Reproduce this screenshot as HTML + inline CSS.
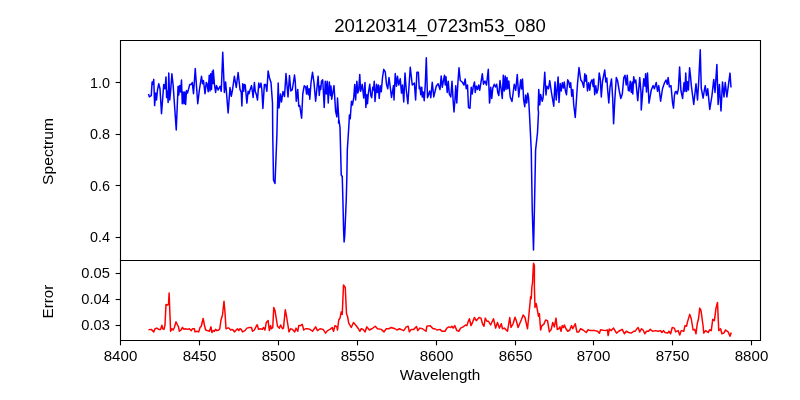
<!DOCTYPE html>
<html><head><meta charset="utf-8"><style>
html,body{margin:0;padding:0;background:#fff;width:800px;height:400px;overflow:hidden}
svg{display:block}
text{font-family:"Liberation Sans",sans-serif;fill:#000}
</style></head><body>
<svg width="800" height="400" viewBox="0 0 800 400">
<rect width="800" height="400" fill="#fff"/>
<polyline fill="none" stroke="#0000ff" stroke-width="1.5" stroke-linejoin="round" stroke-linecap="butt" points="148.50,94.00 149.38,96.88 151.25,95.62 152.12,81.88 152.88,84.38 153.75,79.38 154.62,105.62 155.62,93.12 156.50,100.00 157.50,90.00 158.75,83.75 160.00,88.75 161.50,113.75 163.75,84.38 165.00,88.75 166.00,76.88 166.62,97.50 167.50,91.25 168.12,102.50 168.75,73.12 169.75,100.00 170.62,91.25 171.88,73.75 173.12,85.00 176.25,130.00 178.10,86.25 178.75,95.00 179.75,85.60 180.60,92.00 181.50,80.00 182.25,103.75 183.10,91.90 184.00,103.75 184.75,91.90 185.60,104.40 186.50,90.60 187.50,93.00 188.50,89.40 189.75,84.38 191.25,84.38 192.25,82.50 193.50,93.75 195.25,68.50 197.75,103.75 199.38,90.00 201.50,76.25 202.50,83.75 203.50,80.62 205.00,93.75 206.25,82.50 207.00,83.50 208.20,91.70 209.25,75.25 210.00,91.00 210.75,73.75 211.50,89.50 212.25,71.50 213.00,83.50 213.30,70.00 214.50,85.00 215.62,92.50 216.50,85.62 218.12,90.00 220.00,86.25 221.25,91.25 222.75,52.25 224.38,92.50 225.62,81.88 228.12,113.00 230.00,87.50 231.25,96.25 232.50,90.00 234.38,76.25 236.25,87.50 238.12,72.50 240.00,89.38 241.25,92.50 241.88,106.00 242.75,83.75 243.75,91.25 244.38,84.38 245.25,85.00 246.88,103.12 248.12,91.25 249.00,93.75 250.00,90.00 251.50,85.62 252.50,92.50 253.12,97.50 254.38,82.50 255.25,91.25 256.50,95.00 257.50,100.00 258.75,83.12 259.75,87.50 261.00,83.12 261.88,90.00 262.88,108.50 264.38,84.38 265.62,84.38 266.88,91.25 268.12,71.00 269.38,77.50 271.00,82.50 272.50,103.00 272.75,135.00 273.50,180.00 275.00,183.50 276.90,135.00 277.50,108.00 278.20,83.00 279.00,108.00 280.50,94.00 281.50,102.00 283.00,91.50 284.50,96.50 286.00,73.50 288.00,97.00 289.50,75.50 290.80,91.00 292.20,90.00 293.50,82.00 294.50,75.00 295.25,81.25 296.25,101.25 297.75,89.38 298.75,106.25 299.75,105.62 301.62,118.12 302.50,100.00 302.75,94.00 304.25,85.75 305.75,87.25 306.50,94.00 307.25,85.75 308.30,94.75 309.20,88.75 309.80,99.25 311.00,82.75 312.50,72.25 314.00,82.50 315.62,101.25 318.12,76.25 319.25,95.50 320.20,86.00 320.75,89.50 321.50,81.25 322.70,79.75 323.40,92.00 324.20,107.50 325.25,81.25 326.30,94.00 327.20,81.25 328.25,103.00 329.30,82.00 330.50,95.50 331.00,86.00 331.70,99.25 334.00,85.62 335.62,111.25 336.88,116.88 337.50,98.12 338.75,118.12 338.50,123.00 339.00,120.00 340.00,127.50 340.60,150.00 341.25,175.00 342.25,176.50 342.90,200.00 343.60,230.00 344.10,242.00 344.70,236.00 346.25,200.00 346.90,175.00 347.30,150.00 349.00,123.75 349.40,115.00 350.25,118.75 351.00,107.50 351.50,101.25 352.50,105.00 353.75,97.50 354.75,84.38 355.62,100.00 356.88,81.25 357.75,93.12 358.75,90.00 359.75,74.38 360.62,91.25 362.25,84.38 363.75,98.12 365.00,82.50 365.88,107.50 366.75,94.75 367.50,103.75 368.25,94.00 369.00,89.00 369.75,84.25 370.80,95.50 371.70,97.75 372.75,87.25 373.50,90.00 374.25,81.25 375.00,101.50 376.50,84.25 377.25,92.50 378.30,85.00 379.20,98.50 380.25,85.75 381.30,91.75 382.50,77.50 383.75,69.38 385.25,71.88 386.50,84.38 387.75,88.75 389.00,77.50 390.00,85.00 391.50,97.50 393.50,85.62 394.00,100.00 395.25,73.50 396.50,86.25 397.50,76.25 398.75,85.00 400.25,78.75 401.50,93.12 402.50,85.00 403.75,101.88 405.00,73.12 406.25,90.00 407.88,103.75 410.25,67.25 412.25,85.00 414.38,83.12 415.62,100.00 416.88,72.25 418.38,72.25 419.25,88.75 420.00,87.00 420.75,94.75 421.80,87.25 422.25,97.00 423.20,92.00 424.20,100.75 425.25,85.00 426.30,57.70 427.50,97.75 428.60,94.50 429.70,91.00 430.80,97.75 432.25,82.25 433.75,96.88 436.25,86.25 438.12,83.75 440.00,89.50 441.20,76.00 442.25,87.25 443.20,82.00 444.50,75.25 445.25,85.00 446.00,76.75 447.20,92.50 448.25,81.25 449.30,94.00 450.80,97.00 452.00,81.25 453.20,101.50 454.00,112.00 455.00,99.25 455.75,85.75 456.80,103.00 458.00,81.25 459.00,67.75 460.25,80.50 462.20,82.00 464.00,85.00 465.20,79.00 466.25,88.75 467.50,85.00 468.50,107.50 470.00,108.25 471.20,87.25 472.25,94.00 473.30,86.50 474.50,82.00 475.25,92.50 476.30,86.00 477.50,89.50 478.70,85.00 479.75,90.25 480.80,83.50 482.30,73.75 483.50,84.25 485.00,81.00 486.50,85.00 488.30,69.25 489.50,103.00 489.80,101.50 490.70,87.25 491.75,98.50 492.80,88.00 494.30,84.25 495.50,87.00 496.70,84.25 497.75,92.50 498.80,95.50 500.00,80.50 501.20,89.50 502.25,98.50 503.30,75.25 504.20,91.00 505.25,76.00 506.00,89.50 507.00,77.50 507.80,88.75 508.80,81.00 510.20,97.00 512.00,101.50 514.25,84.25 515.75,90.25 517.25,74.50 518.75,97.00 520.70,79.75 521.60,89.00 522.50,79.00 523.70,100.00 524.75,106.75 525.70,95.00 526.70,103.00 527.75,93.25 528.60,98.00 529.40,112.50 531.25,150.00 532.25,210.00 533.50,250.00 534.40,210.00 535.60,150.00 537.50,132.50 538.50,112.50 538.12,108.75 538.75,89.38 539.75,105.00 540.62,94.38 542.25,101.25 543.12,97.50 544.75,72.25 546.00,95.00 546.88,86.25 548.50,88.75 549.75,80.62 551.25,91.25 553.75,106.25 555.00,81.88 556.25,100.00 558.12,76.88 559.00,102.50 560.20,83.50 561.25,91.00 562.30,82.75 563.50,88.00 564.25,82.00 565.30,90.25 566.50,94.75 567.70,79.75 568.70,81.50 569.80,87.25 570.70,82.75 571.75,96.25 572.80,89.50 573.70,104.50 575.25,117.50 577.50,83.75 579.00,67.50 580.75,79.75 582.25,82.00 583.75,87.25 584.80,73.75 585.70,81.25 586.30,75.25 587.50,91.00 588.70,82.75 589.75,90.25 590.80,82.00 592.00,79.75 593.20,86.50 593.80,79.00 594.70,94.75 595.75,85.75 596.80,93.25 598.00,89.00 599.20,73.00 600.25,79.00 601.30,97.00 602.50,81.25 603.60,76.00 604.75,70.00 605.80,82.00 606.80,78.00 607.75,91.00 608.80,103.00 610.00,87.25 611.50,79.00 612.70,98.50 613.60,123.75 614.80,100.00 616.30,77.50 617.50,80.50 619.30,91.00 620.80,98.50 622.30,94.00 623.80,77.50 625.00,75.25 626.20,85.00 627.25,75.25 628.30,90.25 629.20,91.00 630.25,81.25 631.30,92.50 632.20,82.00 632.80,94.00 633.70,76.75 634.75,82.75 635.80,80.00 637.75,100.62 639.75,77.50 641.00,92.50 641.25,110.00 643.75,78.75 645.00,86.25 645.62,73.75 646.50,91.88 647.50,73.12 649.00,103.12 651.25,90.00 653.12,85.62 654.38,88.75 656.25,82.50 657.50,91.25 658.75,85.62 660.62,101.25 662.50,88.75 664.38,83.12 666.00,80.00 667.25,84.38 668.12,77.50 669.38,86.88 671.00,85.62 672.50,102.50 673.50,108.12 674.40,95.80 675.20,92.00 676.10,91.40 677.20,94.00 678.40,88.80 679.60,66.90 680.90,90.50 682.60,98.40 684.00,82.65 684.90,91.40 685.75,73.00 686.60,91.40 687.50,81.80 688.40,90.00 689.60,67.75 690.50,76.00 691.25,85.00 693.75,104.38 696.00,83.75 697.50,100.00 698.75,80.62 700.25,49.75 701.25,88.12 703.12,98.12 704.38,90.00 705.25,85.62 706.50,95.62 707.75,88.75 709.75,109.38 711.88,96.25 713.75,79.38 715.00,92.50 716.88,64.38 718.12,104.38 719.38,84.38 721.00,111.00 722.50,81.88 724.00,96.88 725.25,82.50 726.88,96.88 730.00,73.12 731.00,87.50"/>
<polyline fill="none" stroke="#ff0000" stroke-width="1.5" stroke-linejoin="round" stroke-linecap="butt" points="148.50,329.75 151.25,329.38 152.50,330.62 153.75,331.88 155.00,328.75 156.88,328.12 158.75,329.38 160.62,329.38 161.88,325.25 162.75,328.75 164.00,329.38 165.00,325.00 166.00,304.38 167.50,305.00 168.50,304.38 169.12,293.12 169.75,310.00 170.62,331.25 171.88,328.75 173.12,330.00 174.38,327.50 176.00,321.88 177.50,325.00 178.50,326.88 179.38,331.25 181.00,330.00 182.50,327.50 184.00,329.38 185.62,328.75 187.50,329.38 189.38,328.75 191.25,330.62 192.50,328.75 194.38,328.75 195.00,331.88 196.88,331.25 198.75,331.88 200.00,327.50 201.25,326.25 203.12,318.50 204.38,325.00 205.62,330.00 207.50,330.62 209.38,331.25 211.00,326.88 211.88,332.50 213.12,330.62 214.38,331.25 215.62,329.38 216.88,330.62 218.75,330.00 219.75,328.75 221.00,320.00 222.50,315.00 224.00,301.25 225.00,312.50 226.00,328.75 227.50,328.12 229.00,328.12 230.62,330.00 231.88,329.38 233.12,330.00 234.38,331.88 236.25,330.00 237.50,328.75 238.75,330.62 240.00,328.75 241.25,329.38 242.50,331.88 245.00,330.62 246.88,328.12 249.38,327.50 251.50,327.50 252.50,331.25 254.38,330.00 256.25,326.25 257.25,324.75 258.50,329.38 260.25,328.75 262.25,329.38 263.50,327.50 265.00,330.00 266.25,322.50 268.12,320.62 269.38,330.62 270.62,325.62 271.50,328.75 272.75,327.50 273.75,307.50 275.00,310.62 277.50,326.25 279.38,328.12 280.62,325.00 282.50,328.75 283.50,328.12 285.25,309.75 286.50,316.25 289.00,331.88 290.62,328.75 292.50,329.38 294.75,331.88 296.00,328.12 297.75,331.25 298.75,325.62 300.62,325.62 302.25,324.38 303.75,330.00 305.62,328.75 307.50,328.75 310.00,329.38 312.50,331.25 315.62,326.88 317.50,330.62 320.00,328.75 323.12,329.38 325.62,333.12 327.50,330.62 330.00,329.38 332.25,327.50 333.50,331.25 335.00,325.62 336.88,326.88 337.50,330.00 338.75,320.00 338.75,320.00 340.00,318.12 341.25,311.88 342.25,314.38 343.50,285.00 344.38,286.25 345.25,287.50 346.50,313.75 347.50,316.25 348.75,323.12 351.25,327.50 353.50,322.50 355.62,325.00 358.50,328.75 359.75,331.25 361.25,328.75 363.12,329.38 365.00,331.88 366.88,326.88 369.38,330.00 371.88,328.75 375.25,326.25 377.50,328.75 381.25,329.38 384.00,331.88 386.25,328.75 388.75,328.75 391.25,327.50 395.00,328.75 396.88,330.00 399.38,328.75 403.75,330.62 406.25,326.88 408.12,326.25 409.38,331.88 411.25,329.38 413.75,329.38 416.50,326.50 417.75,330.62 420.00,328.12 422.50,328.75 426.00,331.25 426.88,326.25 430.00,325.62 433.12,328.75 435.00,328.75 436.88,330.00 440.00,329.38 441.88,331.25 445.00,331.25 446.88,328.12 448.75,326.88 450.62,327.50 451.88,326.25 453.12,328.12 454.75,325.62 456.88,330.62 458.75,331.25 460.62,328.12 463.12,326.88 465.62,325.00 466.88,325.62 468.12,321.88 469.38,318.75 471.00,325.62 472.75,321.88 474.38,317.50 476.25,320.62 477.50,319.38 479.00,317.50 481.00,318.12 482.50,323.75 484.00,326.25 485.25,318.12 486.88,321.25 488.50,321.25 490.62,325.00 493.50,318.75 495.62,328.12 497.50,322.50 499.38,328.12 501.25,323.75 502.50,328.75 504.38,328.12 507.50,331.25 509.75,317.50 511.00,327.50 513.12,323.75 515.00,317.25 516.25,320.62 518.12,327.50 521.25,320.00 523.12,315.00 525.00,317.50 527.50,328.75 529.00,313.75 530.62,296.75 531.25,298.62 531.88,286.75 532.50,283.00 533.50,263.25 534.38,265.50 534.38,286.75 535.00,307.38 536.25,303.62 538.50,316.25 539.38,313.75 540.62,330.00 541.88,325.62 543.75,324.38 545.62,320.00 547.50,320.62 549.38,331.88 551.25,329.38 552.75,322.50 554.38,326.88 556.00,318.12 557.25,329.38 558.75,328.75 560.00,326.88 561.00,331.25 562.25,325.62 563.50,327.50 564.38,325.00 566.00,328.75 567.75,331.25 569.75,330.00 571.50,325.62 572.75,328.75 575.25,323.75 576.88,331.88 578.75,331.88 580.62,328.75 583.12,330.00 586.25,332.50 588.12,329.75 590.00,330.62 595.00,330.62 597.50,331.25 599.38,333.12 600.62,329.75 605.00,330.62 607.50,330.00 608.12,335.62 609.38,329.00 611.25,330.62 613.50,328.12 616.50,333.12 618.75,331.25 622.25,329.38 624.38,333.75 626.25,331.25 628.50,332.50 631.25,333.12 633.75,331.25 635.00,331.25 636.50,329.38 638.12,327.50 639.75,331.88 641.50,328.75 643.12,330.00 644.75,333.75 646.50,331.25 648.50,331.25 650.25,329.38 652.50,331.25 655.62,330.62 658.12,331.25 660.62,330.62 661.88,332.50 663.50,330.62 665.00,332.50 667.75,333.12 669.00,331.25 670.62,333.75 672.25,327.50 674.38,328.12 675.62,331.88 678.12,330.62 679.75,335.00 681.25,330.62 683.75,331.25 685.00,325.62 686.50,326.25 687.50,321.88 689.75,314.38 691.25,318.75 693.12,330.00 694.75,329.38 696.00,333.75 697.25,323.75 698.50,318.75 699.75,308.12 701.00,310.62 703.12,326.25 703.75,333.12 705.62,330.62 708.12,332.50 709.75,329.75 711.25,330.62 712.75,319.38 714.38,320.62 716.00,308.12 717.50,302.50 718.75,330.62 720.62,328.75 721.88,333.75 723.75,333.12 725.62,330.00 728.12,331.88 730.00,336.25 731.25,332.50"/>
<g stroke="#000" stroke-width="1.11" fill="none" stroke-linecap="square">
<path d="M120.5,40.5 H760.5 V340.5 H120.5 Z"/>
<line x1="120.5" y1="260.5" x2="760.5" y2="260.5"/>
</g>
<g stroke="#000" stroke-width="1.11">
<line x1="120.50" y1="340.5" x2="120.50" y2="345.36"/><line x1="199.50" y1="340.5" x2="199.50" y2="345.36"/><line x1="278.50" y1="340.5" x2="278.50" y2="345.36"/><line x1="357.50" y1="340.5" x2="357.50" y2="345.36"/><line x1="436.50" y1="340.5" x2="436.50" y2="345.36"/><line x1="515.50" y1="340.5" x2="515.50" y2="345.36"/><line x1="593.50" y1="340.5" x2="593.50" y2="345.36"/><line x1="672.50" y1="340.5" x2="672.50" y2="345.36"/><line x1="751.50" y1="340.5" x2="751.50" y2="345.36"/><line x1="120.5" y1="82.5" x2="115.64" y2="82.5"/><line x1="120.5" y1="134.5" x2="115.64" y2="134.5"/><line x1="120.5" y1="185.5" x2="115.64" y2="185.5"/><line x1="120.5" y1="237.5" x2="115.64" y2="237.5"/><line x1="120.5" y1="273.5" x2="115.64" y2="273.5"/><line x1="120.5" y1="299.5" x2="115.64" y2="299.5"/><line x1="120.5" y1="325.5" x2="115.64" y2="325.5"/>
</g>
<g font-size="14" style="opacity:0.999">
<text x="120.50" y="361" text-anchor="middle" textLength="33.6" lengthAdjust="spacingAndGlyphs">8400</text><text x="199.50" y="361" text-anchor="middle" textLength="33.6" lengthAdjust="spacingAndGlyphs">8450</text><text x="278.50" y="361" text-anchor="middle" textLength="33.6" lengthAdjust="spacingAndGlyphs">8500</text><text x="357.50" y="361" text-anchor="middle" textLength="33.6" lengthAdjust="spacingAndGlyphs">8550</text><text x="436.50" y="361" text-anchor="middle" textLength="33.6" lengthAdjust="spacingAndGlyphs">8600</text><text x="515.50" y="361" text-anchor="middle" textLength="33.6" lengthAdjust="spacingAndGlyphs">8650</text><text x="593.50" y="361" text-anchor="middle" textLength="33.6" lengthAdjust="spacingAndGlyphs">8700</text><text x="672.50" y="361" text-anchor="middle" textLength="33.6" lengthAdjust="spacingAndGlyphs">8750</text><text x="751.50" y="361" text-anchor="middle" textLength="33.6" lengthAdjust="spacingAndGlyphs">8800</text><text x="109.9" y="88" text-anchor="end" textLength="20.0" lengthAdjust="spacingAndGlyphs">1.0</text><text x="109.9" y="139" text-anchor="end" textLength="20.0" lengthAdjust="spacingAndGlyphs">0.8</text><text x="109.9" y="191" text-anchor="end" textLength="20.0" lengthAdjust="spacingAndGlyphs">0.6</text><text x="109.9" y="242" text-anchor="end" textLength="20.0" lengthAdjust="spacingAndGlyphs">0.4</text><text x="109.9" y="278" text-anchor="end" textLength="28.6" lengthAdjust="spacingAndGlyphs">0.05</text><text x="109.9" y="304" text-anchor="end" textLength="28.6" lengthAdjust="spacingAndGlyphs">0.04</text><text x="109.9" y="330" text-anchor="end" textLength="28.6" lengthAdjust="spacingAndGlyphs">0.03</text>
<text x="440" y="31.8" font-size="18" text-anchor="middle" textLength="211.6" lengthAdjust="spacingAndGlyphs">20120314_0723m53_080</text>
<text x="440" y="380" text-anchor="middle" textLength="80.5" lengthAdjust="spacingAndGlyphs">Wavelength</text>
<text transform="translate(53.4,151.5) rotate(-90)" text-anchor="middle" textLength="66.8" lengthAdjust="spacingAndGlyphs">Spectrum</text>
<text transform="translate(52.8,301.6) rotate(-90)" text-anchor="middle" textLength="33.6" lengthAdjust="spacingAndGlyphs">Error</text>
</g>
</svg>
</body></html>
